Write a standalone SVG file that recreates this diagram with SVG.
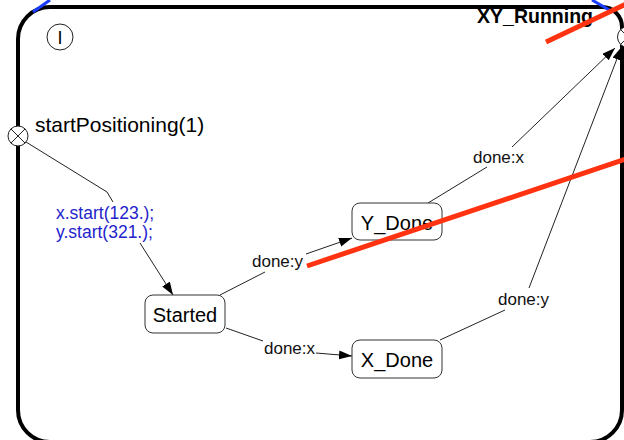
<svg xmlns="http://www.w3.org/2000/svg" width="624" height="440" viewBox="0 0 624 440">
<style>
.node rect{fill:#fff;stroke:#333;stroke-width:1}
.ntext{font-family:"Liberation Sans",Arial,sans-serif;font-size:20px;fill:#000;text-anchor:middle}
.lbl{font-family:"Liberation Sans",Arial,sans-serif;font-size:17px;fill:#111}
.act{font-family:"Liberation Sans",Arial,sans-serif;font-size:17.5px;fill:#2323cc}
.edge{fill:none;stroke:#222;stroke-width:1}
.pseudo{fill:#fff;stroke:#222;stroke-width:1}
</style>
<defs>
<marker id="arr" markerUnits="userSpaceOnUse" markerWidth="14" markerHeight="10" refX="13" refY="4.5" orient="auto">
<path d="M0,0 L13,4.5 L0,9 Z" fill="#000"/>
</marker>
</defs>
<rect width="624" height="440" fill="#fff"/>
<g id="XY_Running">
<path d="M50,7 H602 A20,20 0 0 1 622,27 V410 A32,32 0 0 1 590,442 H50 A32,32 0 0 1 18,410 V39 A32,32 0 0 1 50,7 Z" fill="#fff" stroke="#000" stroke-width="4"/>
<text x="593" y="23" font-family="'Liberation Sans',Arial,sans-serif" font-size="19.5" font-weight="bold" text-anchor="end">XY_Running</text>
</g>
<g id="history">
<circle cx="60" cy="37" r="13" class="pseudo"/>
<text x="60" y="44" font-family="'Liberation Sans',Arial,sans-serif" font-size="18" text-anchor="middle">I</text>
</g>
<g id="startPositioning">
<circle cx="18" cy="136" r="10" class="pseudo"/>
<path d="M10.9,128.9 L25.1,143.1 M25.1,128.9 L10.9,143.1" stroke="#222" stroke-width="1"/>
<text x="35" y="132" font-family="'Liberation Sans',Arial,sans-serif" font-size="21">startPositioning(1)</text>
</g>
<g id="exit">
<circle cx="628" cy="37" r="10.5" class="pseudo"/>
<path d="M620.6,29.6 L635.4,44.4 M635.4,29.6 L620.6,44.4" stroke="#222" stroke-width="1"/>
</g>
<g id="connectors">
<polyline class="edge" points="26,142 107,192 113,202"/>
<line class="edge" x1="140" y1="243" x2="173" y2="295" marker-end="url(#arr)"/>
<text class="act" x="56" y="219">x.start(123.);</text>
<text class="act" x="56" y="238">y.start(321.);</text>
<line class="edge" x1="220" y1="295" x2="265" y2="272"/>
<line class="edge" x1="306" y1="254" x2="352" y2="238" marker-end="url(#arr)"/>
<text class="lbl" x="252" y="267">done:y</text>
<line class="edge" x1="226" y1="328" x2="263" y2="341"/>
<line class="edge" x1="316" y1="353" x2="352" y2="356" marker-end="url(#arr)"/>
<text class="lbl" x="264" y="354">done:x</text>
<line class="edge" x1="428" y1="203" x2="487" y2="167"/>
<line class="edge" x1="512" y1="147" x2="615" y2="48" marker-end="url(#arr)"/>
<text class="lbl" x="473" y="163">done:x</text>
<line class="edge" x1="440" y1="340" x2="505" y2="310"/>
<line class="edge" x1="529" y1="288" x2="621.5" y2="47" marker-end="url(#arr)"/>
<text class="lbl" x="498" y="305">done:y</text>
</g>
<g id="Started" class="node">
<rect x="145" y="295" width="80" height="38" rx="8"/>
<text class="ntext" x="185" y="322">Started</text>
</g>
<g id="Y_Done" class="node">
<rect x="352" y="203" width="90" height="37" rx="8"/>
<text class="ntext" x="397" y="230">Y_Done</text>
</g>
<g id="X_Done" class="node">
<rect x="352" y="340" width="90" height="38" rx="8"/>
<text class="ntext" x="397" y="367">X_Done</text>
</g>
<g id="marks">
<line x1="33" y1="12" x2="50" y2="0" stroke="#1a3cff" stroke-width="3"/>
<line x1="592" y1="0" x2="611" y2="11" stroke="#1a3cff" stroke-width="3"/>
<line x1="546" y1="42" x2="626" y2="4" stroke="#ff3311" stroke-width="5"/>
<line x1="307" y1="266" x2="626" y2="159" stroke="#ff3311" stroke-width="5"/>
</g>
</svg>
